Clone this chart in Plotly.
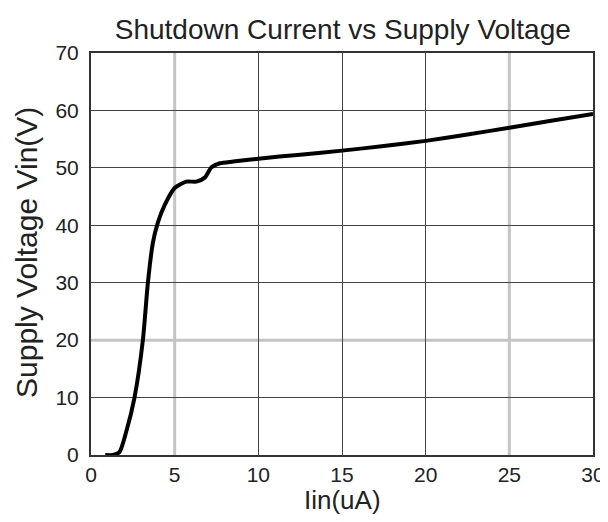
import plotly.graph_objects as go

# Shutdown current (uA) vs supply voltage (V)
iin_ua = [0.85, 1.3, 1.7, 2.1, 2.6, 3.1, 3.4, 3.7, 4.0, 4.4, 5.0, 5.7, 6.3, 6.8, 7.2, 7.7, 8.5, 10, 12.5, 15, 17.5, 20, 22.5, 25, 27.5, 30]
vin_v = [0, 0, 0.5, 4, 10, 20, 30, 37, 40.5, 43.5, 46.5, 47.6, 47.6, 48.3, 50.1, 50.8, 51.1, 51.6, 52.3, 53.0, 53.8, 54.7, 55.8, 57.0, 58.2, 59.4]

x_ticks = [0, 5, 10, 15, 20, 25, 30]
y_ticks = [0, 10, 20, 30, 40, 50, 60, 70]
# grid lines drawn dark vs. the lighter, wider ones
x_dark_grid = [10, 15, 20]
x_light_grid = [5, 25]
y_dark_grid = [10, 30, 40, 50, 60]
y_light_grid = [20]

fig = go.Figure()

light = dict(color="#c4c4c4", width=3)
for v in x_light_grid:
    fig.add_shape(type="line", xref="x", yref="paper", x0=v, x1=v, y0=0, y1=1, line=light, layer="below")
for v in y_light_grid:
    fig.add_shape(type="line", xref="paper", yref="y", x0=0, x1=1, y0=v, y1=v, line=light, layer="below")

fig.add_scatter(x=iin_ua, y=vin_v, mode="lines",
                line=dict(color="black", width=4, shape="spline", smoothing=0.6))

axis_common = dict(showgrid=False, showline=True, linecolor="#333333", linewidth=2, mirror=True,
                   zeroline=False, ticks="", automargin=False, tickfont=dict(size=21, color="#222"))

fig.update_xaxes(range=[0, 30], tickvals=x_ticks,
                 minor=dict(tickvals=x_dark_grid, showgrid=True, gridcolor="#444444", gridwidth=1, ticks=""),
                 **axis_common)
fig.update_yaxes(range=[0, 70], tickvals=y_ticks, ticklabelstandoff=6,
                 minor=dict(tickvals=y_dark_grid, showgrid=True, gridcolor="#444444", gridwidth=1, ticks=""),
                 **axis_common)

fig.add_annotation(text="Iin(uA)", xref="paper", yref="paper", x=0.5, y=-0.112,
                   xanchor="center", yanchor="middle", showarrow=False,
                   font=dict(size=26, color="#222"))
fig.add_annotation(text="Supply Voltage Vin(V)", xref="paper", yref="paper", x=-0.1275, y=0.505,
                   xanchor="center", yanchor="middle", textangle=-90, showarrow=False,
                   font=dict(size=30, color="#222"))

# page body adds an 8px margin, so the figure is sized to fit inside 608x522
fig.update_layout(
    width=600, height=514,
    margin=dict(l=83, r=15, t=45, b=67),
    paper_bgcolor="white", plot_bgcolor="white",
    font=dict(family="Liberation Sans, Arial, sans-serif", color="#222"),
    title=dict(text="Shutdown Current vs Supply Voltage", x=0.558, xanchor="center",
               y=0.959, yanchor="middle", font=dict(size=28, color="#222")),
    showlegend=False,
)

fig.write_html("out.html")
